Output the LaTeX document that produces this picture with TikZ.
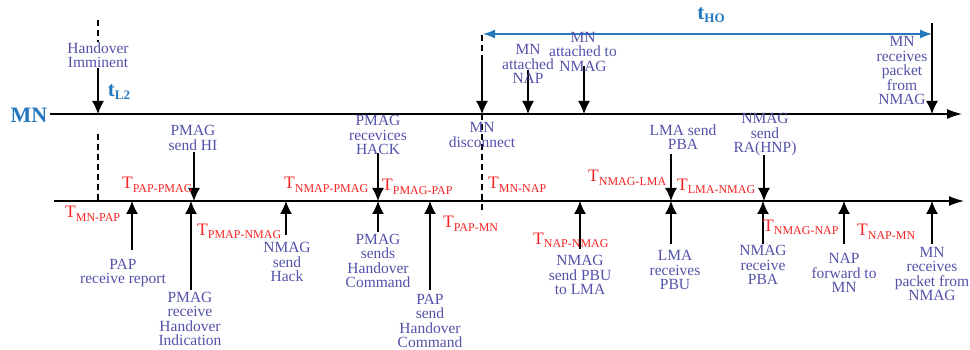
\documentclass[tikz,border=0pt]{standalone}
\usepackage{fontspec}
\setmainfont{Liberation Serif}
\usetikzlibrary{arrows.meta}

\definecolor{lblcol}{RGB}{82,82,170}
\definecolor{tred}{RGB}{245,35,35}
\definecolor{tblue}{RGB}{35,120,190}

\newcommand{\Tsub}[1]{T\raisebox{-3.5pt}{\fontsize{12}{12}\selectfont #1}}
\newcommand{\tsub}[1]{t\raisebox{-3.5pt}{\fontsize{13}{13}\selectfont #1}}

\begin{document}
\begin{tikzpicture}[x=1pt, y=-1pt,
    lbl/.style = {text=lblcol, align=center, inner sep=0pt,
                  font=\fontsize{15.5}{14.5}\selectfont},
    tlbl/.style = {text=tred, anchor=base west, inner sep=0pt,
                   font=\fontsize{17.5}{17}\selectfont},
    blbl/.style = {text=tblue, inner sep=0pt,
                   font=\fontsize{21}{21}\selectfont\bfseries},
    arr/.style = {line width=1.3pt, -{Latex[length=13pt,width=12pt]}},
    axis/.style = {line width=1.3pt, -{Latex[length=15pt,width=10pt]}},
    dashline/.style = {line width=1.2pt, dash pattern=on 6pt off 4pt}]

  \useasboundingbox (0,0) rectangle (970,350);

  % the two time lines
  \coordinate (mnL) at (50,114);
  \coordinate (mnR) at (962,114);
  \coordinate (bL)  at (54,201);
  \coordinate (bR)  at (964,201);
  \draw [axis] (mnL) -- (mnR);
  \draw [axis] (bL) -- (bR);
  \node (mn) at (29,115) [text=tblue, font=\fontsize{22}{22}\selectfont\bfseries] {MN};

  % dashed markers
  \draw [dashline] (98,20) coordinate (hoA) -- (98,42);
  \draw [dashline] (98,134) coordinate (hoB) -- (hoB |- bL);
  \draw [dashline] (482,35) coordinate (dcA) -- (482,56);
  \draw [dashline] (dcA |- mnL) -- (482,214) coordinate (dcB);

  % arrows onto the MN line
  \foreach \n/\x/\y in {a/98/68, b/482/56, c/528/70, d/584/66, e/932/23}
    \draw [arr] (\x,\y) coordinate (top\n) -- (top\n |- mnL);

  % arrows down onto the lower line
  \foreach \n/\x/\y in {a/194/152, b/378/153, c/671/154, d/764/155}
    \draw [arr] (\x,\y) coordinate (mid\n) -- (mid\n |- bL);

  % arrows up onto the lower line
  \foreach \n/\x/\y in {a/132/250, b/191/290, c/286/235, d/378/232, e/430/290,
                        f/580/249, g/671/244, h/763/244, i/844/244, j/932/244}
    \draw [arr] (\x,\y) coordinate (bot\n) -- (bot\n |- bL);

  % handover time
  \coordinate (ho1) at (483,34);
  \coordinate (ho2) at (932,34);
  \draw [tblue, line width=1.3pt, {Latex[length=12pt,width=9pt]}-{Latex[length=12pt,width=9pt]}] (ho1) -- (ho2);
  \node (tho) at (711,15) [blbl] {\tsub{HO}};
  \node (tl2) at (119,92) [blbl] {\tsub{L2}};

  % labels above the MN line
  \node (hoimm) at (98,55)    [lbl, fill=white] {Handover\\Imminent};
  \node (attnap) at (528,64)  [lbl] {MN\\attached\\NAP};
  \node (attnmag) at (583,52) [lbl] {MN\\attached to\\NMAG};
  \node (rcvtop) at (902,71)  [lbl] {MN\\receives\\packet\\from\\NMAG};

  % labels between the lines
  \node (sendhi) at (193,138)  [lbl] {PMAG\\send HI};
  \node (rcvhack) at (378,135) [lbl] {PMAG\\recevices\\HACK};
  \node (disc) at (482,135)    [lbl] {MN\\disconnect};
  \node (sendpba) at (683,137) [lbl] {LMA send\\PBA};
  \node (sendra) at (765,135)  [lbl] {NMAG\\send\\RA(HNP)};

  % labels below the lower line
  \node (rcvrep) at (123,273)   [lbl] {PAP\\receive report};
  \node (rcvind) at (190,319)   [lbl] {PMAG\\receive\\Handover\\Indication};
  \node (sendhack) at (287,262) [lbl] {NMAG\\send\\Hack};
  \node (sendcmd) at (378,261)  [lbl] {PMAG\\sends\\Handover\\Command};
  \node (papcmd) at (430,321)   [lbl] {PAP\\send\\Handover\\Command};
  \node (sendpbu) at (580,275)  [lbl] {NMAG\\send PBU\\to LMA};
  \node (rcvpbu) at (675,270)   [lbl] {LMA\\receives\\PBU};
  \node (rcvpba) at (763,265)   [lbl] {NMAG\\receive\\PBA};
  \node (fwd) at (844,273)      [lbl] {NAP\\forward to\\MN};
  \node (rcvbot) at (932,274)   [lbl] {MN\\receives\\packet from\\NMAG};

  % delays
  \node (dPapPmag) at (122,189)  [tlbl] {\Tsub{PAP-PMAG}};
  \node (dNmapPmag) at (284,189) [tlbl] {\Tsub{NMAP-PMAG}};
  \node (dPmagPap) at (382,191)  [tlbl] {\Tsub{PMAG-PAP}};
  \node (dMnNap) at (488,189)    [tlbl] {\Tsub{MN-NAP}};
  \node (dNmagLma) at (588,182)  [tlbl] {\Tsub{NMAG-LMA}};
  \node (dLmaNmag) at (677,190)  [tlbl] {\Tsub{LMA-NMAG}};
  \node (dMnPap) at (65,218)     [tlbl] {\Tsub{MN-PAP}};
  \node (dPmapNmag) at (197,235) [tlbl] {\Tsub{PMAP-NMAG}};
  \node (dPapMn) at (443,228)    [tlbl] {\Tsub{PAP-MN}};
  \node (dNapNmag) at (533,244)  [tlbl] {\Tsub{NAP-NMAG}};
  \node (dNmagNap) at (763,231)  [tlbl] {\Tsub{NMAG-NAP}};
  \node (dNapMn) at (857,236)    [tlbl] {\Tsub{NAP-MN}};

\end{tikzpicture}
\end{document}
